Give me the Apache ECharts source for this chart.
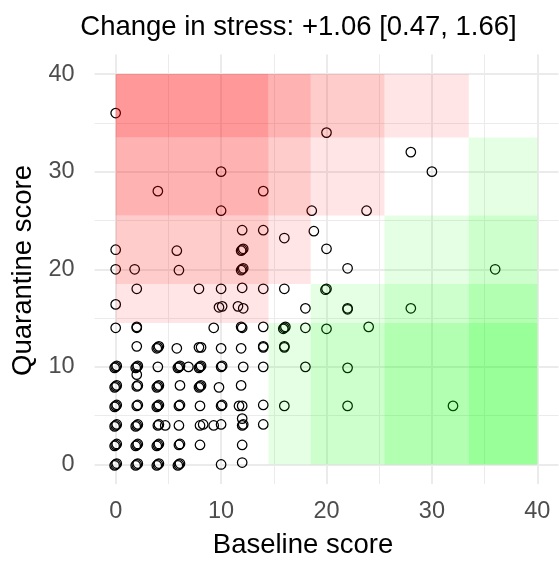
<!DOCTYPE html>
<html><head><meta charset="utf-8">
<script src="https://cdn.jsdelivr.net/npm/echarts@6/dist/echarts.min.js"></script>
<style>html,body{margin:0;padding:0;background:#fff}#c{width:559px;height:561px}</style>
</head><body><div id="c"></div>
<script>
// Baseline / quarantine stress scores (one entry per participant)
const baseline = [
  0, 20, 28, 30, 10, 4, 14, 10, 18.6, 23.8, 12, 14, 16, 18.8, 20, 22, 36,
  0, 5.8, 12, 12.1, 11.9, 0, 1.8, 6, 12, 12.1, 11.9,
  2, 7.9, 10, 12, 14, 16, 20, 19.9,
  0, 9.8, 10.1, 11.6, 12.1, 18, 22, 22, 28,
  0, 2, 2, 9.3, 12, 11.9, 14, 16, 16.1, 15.9, 18, 20, 24,
  2, 4, 4.1, 3.9, 5.8, 7.9, 8.1, 10, 11.9, 14, 14, 16, 16,
  0, 0.1, -0.1, 2, 2.1, 1.9, 2, 4, 6, 6.1, 5.9, 6.9, 8, 8.1, 7.9, 10, 10.1, 12.1, 14, 18, 22,
  0, 0.1, -0.1, 2, 2.1, 4, 4.1, 3.9, 6.1, 8, 8.1, 7.9, 9.8, 11.9,
  0, 0.1, -0.1, 2, 2.1, 4, 4.1, 3.9, 6, 6.1, 8, 10, 10.1, 11.7, 12, 14, 16, 22, 32,
  0, 0.1, -0.1, 2, 2.1, 1.9, 4, 4.1, 4.7, 6, 8, 8.3, 9.3, 10, 12, 12, 12.1, 14,
  0, 0.1, -0.1, 2, 2.1, 1.9, 4, 4.1, 3.9, 6, 6.1, 8, 12,
  0, 0.1, -0.1, 2, 2.1, 1.9, 4, 4.1, 3.9, 6, 6.1, 5.9, 10, 12
];
const quarantine = [
  36, 34, 32, 30, 30, 28, 28, 26, 26, 26, 24, 24, 23.2, 23.9, 22.1, 20.1, 20,
  22, 21.9, 22, 22.1, 21.9, 20, 20, 19.9, 20, 20.1, 19.9,
  18, 18, 18, 18.1, 18, 18, 18, 17.9,
  16.4, 16.1, 16.2, 16.2, 16, 16, 16, 15.9, 16,
  14, 14, 14.1, 14, 14, 14.1, 14.1, 14, 14.1, 13.9, 14, 13.9, 14.1,
  12.1, 12, 12.1, 11.9, 11.9, 12, 12, 11.9, 11.9, 12, 12.1, 12, 12.1,
  10, 10.1, 9.9, 10, 10.1, 9.9, 9.2, 10, 10, 10.1, 9.9, 10, 10, 10.1, 9.9, 10, 10.1, 10, 10, 10, 9.9,
  8, 8.1, 7.9, 8, 8.1, 8, 8.1, 7.9, 8.1, 8, 8.1, 7.9, 7.9, 8.1,
  6, 6.1, 5.9, 6, 6.1, 6, 6.1, 5.9, 6, 6.1, 6, 6, 6.1, 6, 6, 6.1, 6, 6, 6,
  4, 4.1, 3.9, 4, 4.1, 3.9, 4, 4.1, 4, 4, 4, 4.1, 4, 4.1, 4.7, 4, 4.1, 4.1,
  2, 2.1, 1.9, 2, 2.1, 1.9, 2, 2.1, 1.9, 2, 2.1, 2, 2,
  0, 0.1, -0.1, 0, 0.1, -0.1, 0, 0.1, -0.1, 0, 0.1, -0.1, 0, 0.2
];
// Stress category boundaries (same on both axes)
const binEdges = [0, 14.5, 18.5, 25.5, 33.5, 40];
const majorTicks = [0, 10, 20, 30, 40];
const minorTicks = [5, 15, 25, 35];
const titleText = 'Change in stress: +1.06 [0.47, 1.66]';
const xTitle = 'Baseline score';
const yTitle = 'Quarantine score';

const FONT = '"Liberation Sans", Arial, sans-serif';

const cells = [];
for (let i = 0; i < binEdges.length - 1; i++) {
  for (let j = 0; j < binEdges.length - 1; j++) {
    if (i === j) continue;
    cells.push([binEdges[i], binEdges[i + 1], binEdges[j], binEdges[j + 1], j - i]);
  }
}
const points = baseline.map((b, k) => [b, quarantine[k]]);

function axisPair(dim) {
  const common = {type: 'value', min: -2, max: 42, gridIndex: 0, axisLine: {show: false}};
  return [
    Object.assign({}, common, {
      axisTick: {show: false, customValues: majorTicks},
      axisLabel: {customValues: majorTicks, margin: dim === 'x' ? 16 : 20, color: '#4D4D4D', fontSize: 23.5, fontFamily: FONT},
      splitLine: {show: true, lineStyle: {color: '#EBEBEB', width: 2}}
    }),
    Object.assign({}, common, {
      axisTick: {show: false, customValues: minorTicks},
      axisLabel: {show: false},
      splitLine: {show: true, lineStyle: {color: '#EBEBEB', width: 1}}
    })
  ];
}

const chart = echarts.init(document.getElementById('c'), null, {renderer: 'canvas'});
chart.setOption({
  animation: false,
  backgroundColor: '#fff',
  grid: {left: 94.6, top: 54.5, width: 463.8, height: 429.5, containLabel: false},
  xAxis: axisPair('x'),
  yAxis: axisPair('y'),
  series: [
    {
      type: 'scatter', xAxisIndex: 0, yAxisIndex: 0, z: 2, silent: true,
      data: points, symbol: 'circle', symbolSize: 9.5,
      itemStyle: {color: 'rgba(0,0,0,0)', borderColor: '#000', borderWidth: 1.25, opacity: 1}
    },
    {
      type: 'custom', xAxisIndex: 0, yAxisIndex: 0, z: 5, silent: true,
      data: cells,
      renderItem: function (params, api) {
        const p0 = api.coord([api.value(0), api.value(3)]);
        const p1 = api.coord([api.value(1), api.value(2)]);
        const d = api.value(4);
        const fill = d > 0 ? 'rgba(255,0,0,' + (0.1 * d) + ')' : 'rgba(0,255,0,' + (-0.1 * d) + ')';
        return {type: 'rect', shape: {x: p0[0], y: p0[1], width: p1[0] - p0[0], height: p1[1] - p0[1]}, style: {fill: fill}};
      }
    }
  ],
  graphic: [
    {type: 'text', x: 298.5, y: 27, style: {text: titleText, font: '27.5px ' + FONT, fill: '#000', textAlign: 'center', textVerticalAlign: 'middle', align: 'center', verticalAlign: 'middle'}},
    {type: 'text', x: 303, y: 545, style: {text: xTitle, font: '27.5px ' + FONT, fill: '#000', textAlign: 'center', textVerticalAlign: 'middle', align: 'center', verticalAlign: 'middle'}},
    {type: 'text', x: 23, y: 270.5, rotation: Math.PI / 2, style: {text: yTitle, font: '27.5px ' + FONT, fill: '#000', textAlign: 'center', textVerticalAlign: 'middle', align: 'center', verticalAlign: 'middle'}}
  ]
});
</script></body></html>
